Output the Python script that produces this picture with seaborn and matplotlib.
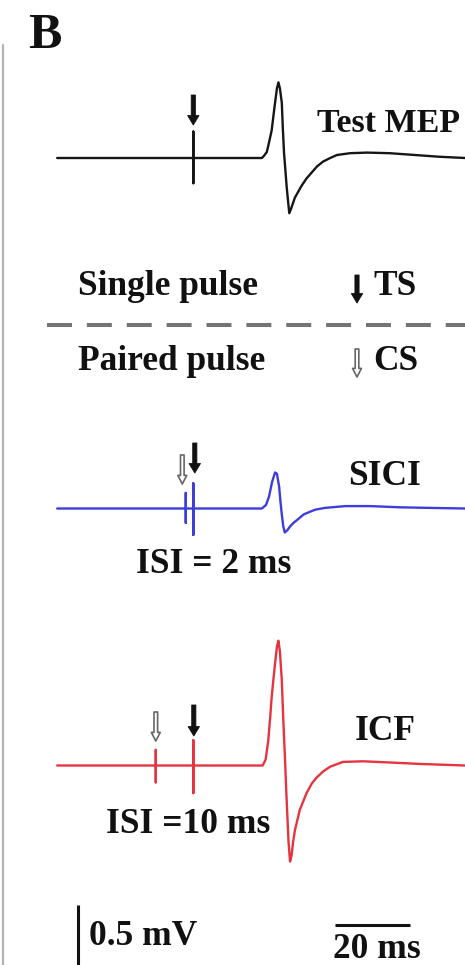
import matplotlib
matplotlib.use("Agg")
import matplotlib.pyplot as plt
import matplotlib.transforms as mtransforms
import pandas as pd
import seaborn as sns

# ---- sweeps: time in ms (0 = test stimulus), amplitude in mV ----
isi_sici = 2     # ms between conditioning and test stimulus
isi_icf = 10

test_t = [-36.3, 0, 0, 0, 0, 18.3, 18.9, 19.6, 20.2, 20.9, 21.4, 21.8, 22.3, 22.7,
          23.1, 23.6, 23.9, 24.2, 24.6, 24.9, 25.3, 25.6, 26.1, 27.1, 28.9, 30.2,
          31.6, 33.0, 34.6, 36.5, 38.3, 41.8, 46.3, 52.4, 59.1, 65.8, 72.5]
test_v = [0, 0, 0.22, -0.21, 0, 0, 0.02, 0.05, 0.13, 0.23, 0.36, 0.46, 0.58, 0.63,
          0.58, 0.46, 0.23, 0.04, -0.12, -0.24, -0.37, -0.46, -0.42, -0.33, -0.23, -0.17,
          -0.12, -0.07, -0.03, 0.0, 0.025, 0.04, 0.045, 0.04, 0.025, 0.01, 0]

sici_t = [-36.3, -2, -2, -2, -2, 0, 0, 0, 0, 18.3, 19.4, 20.2, 21.0, 21.8, 22.3,
          22.9, 23.2, 23.6, 24.0, 24.4, 25.1, 25.8, 26.7, 27.9, 29.4, 30.9, 32.5,
          35.1, 40.5, 47.1, 55.1, 63.1, 72.5]
sici_v = [0, 0, 0.13, -0.12, 0, 0, 0.21, -0.22, 0, 0, 0.03, 0.10, 0.22, 0.30, 0.29,
          0.18, 0.07, -0.05, -0.15, -0.20, -0.18, -0.15, -0.12, -0.09, -0.05, -0.03, -0.01,
          0.005, 0.02, 0.02, 0.01, 0.005, 0]

icf_t = [-36.3, -10, -10, -10, -10, 0, 0, 0, 0, 18.5, 19.3, 20.0, 20.5, 20.9, 21.4,
         21.8, 22.3, 22.7, 23.1, 23.6, 24.0, 24.5, 24.8, 25.1, 25.4, 25.8, 26.2, 26.6,
         27.1, 28.4, 30.2, 31.6, 32.9, 34.6, 36.5, 39.9, 45.3, 52.5, 60.5, 72.5]
icf_v = [0, 0, 0.13, -0.14, 0, 0, 0.21, -0.23, 0, 0, 0.05, 0.21, 0.40, 0.57, 0.73,
         0.85, 0.99, 1.04, 0.95, 0.71, 0.38, 0.02, -0.22, -0.43, -0.64, -0.80, -0.75, -0.64,
         -0.54, -0.37, -0.23, -0.15, -0.10, -0.05, -0.01, 0.03, 0.035, 0.025, 0.013, 0]

trace_names = ["Test MEP", "SICI", "ICF"]
trace_colors = ["#161616", "#3d3ddc", "#e5343f"]
scale_ms = 20
scale_mv = 0.5

# ---- layout ----
W, H = 465, 965
PX_MS, PX_MV = 3.75, 120.0
TS_X = 193.3
baselines_px = [158.0, 508.5, 765.5]

sns.set_theme(style="white")
plt.rcParams["font.family"] = ["Liberation Serif", "DejaVu Serif"]

fig = plt.figure(figsize=(W / 100, H / 100), dpi=100)
ax = fig.add_axes([0, 0, 1, 1])
ax.set_xlim(-TS_X / PX_MS, (W - TS_X) / PX_MS)
ax.set_ylim(-H / PX_MV, 0)
ax.set_axis_off()

# pixel coordinates measured from the top-left corner
PX = mtransforms.Affine2D().scale(1 / W, -1 / H).translate(0, 1) + fig.transFigure

frames = []
for name, t, v, base in zip(trace_names, [test_t, sici_t, icf_t],
                            [test_v, sici_v, icf_v], baselines_px):
    df = pd.DataFrame({"t": t, "v": v})
    df["y"] = df["v"] - base / PX_MV
    df["trace"] = name
    frames.append(df)
sweeps = pd.concat(frames, ignore_index=True)

for name, color in zip(trace_names, trace_colors):
    sns.lineplot(data=sweeps[sweeps["trace"] == name], x="t", y="y",
                 estimator=None, sort=False, color=color, lw=1.7,
                 ax=ax, legend=False)


def stim_arrow(x, y_tail, y_tip, filled=True):
    if filled:
        props = dict(arrowstyle="simple,head_length=0.68,head_width=0.82,tail_width=0.3",
                     fc="#111111", ec="#111111", lw=0.6)
    else:
        props = dict(arrowstyle="simple,head_length=0.62,head_width=0.64,tail_width=0.26",
                     fc="white", ec="#666666", lw=1.2)
    props.update(shrinkA=0, shrinkB=0, mutation_scale=10)
    ax.annotate("", xy=(x, y_tip), xytext=(x, y_tail), xycoords=PX,
                textcoords=PX, arrowprops=props)


def t_to_px(t):
    return TS_X + t * PX_MS


# stimulus markers above each sweep
stim_arrow(t_to_px(0), 95, 125, True)
stim_arrow(t_to_px(-isi_sici) - 3.5, 455, 484, False)
stim_arrow(t_to_px(0) + 1.5, 443, 473, True)
stim_arrow(t_to_px(-isi_icf), 712, 741, False)
stim_arrow(t_to_px(0) + 0.5, 705, 736, True)

# key
stim_arrow(357, 275, 303, True)
stim_arrow(357, 349, 377, False)

txt = dict(transform=PX, fontweight="bold", fontsize=25.5, color="#111111",
           ha="left", va="baseline")
fig.text(28, 48, "B", **{**txt, "fontsize": 36})
fig.text(317, 132, "Test MEP", **{**txt, "fontsize": 24.5})
fig.text(78, 295, "Single pulse", **txt)
fig.text(373, 295, "TS", **txt)
fig.text(78, 370, "Paired pulse", **txt)
fig.text(373, 370, "CS", **txt)
fig.text(348, 485, "SICI", **txt)
fig.text(136, 573, f"ISI = {isi_sici} ms", **txt)
fig.text(355, 740, "ICF", **txt)
fig.text(106, 833, f"ISI ={isi_icf} ms", **txt)
fig.text(89, 945, f"{scale_mv} mV", **txt)
fig.text(333, 958, f"{scale_ms} ms", **txt)

# dashed separator between single- and paired-pulse sections
sep, = ax.plot([0, 1], [0, 0], color="#747474", lw=2.9, transform=PX)
sep.set_data([46.7, W], [325, 325])
sep.set_dashes([6.2, 3.7])

# panel frame line on the left
ax.plot([2.5, 2.5], [45, H], color="#b4b4b4", lw=1.6, transform=PX, clip_on=False)

# scale bars, drawn in data units
bar_t = (78.3 - TS_X) / PX_MS
bar_top = -905 / PX_MV
ax.plot([bar_t, bar_t], [bar_top, bar_top - scale_mv], color="#111111", lw=2.2,
        solid_capstyle="butt")
hbar_t0 = (335 - TS_X) / PX_MS
hbar_y = -925 / PX_MV
ax.plot([hbar_t0, hbar_t0 + scale_ms], [hbar_y, hbar_y], color="#111111", lw=2.2,
        solid_capstyle="butt")

fig.savefig("out.png", dpi=100, facecolor="white")
